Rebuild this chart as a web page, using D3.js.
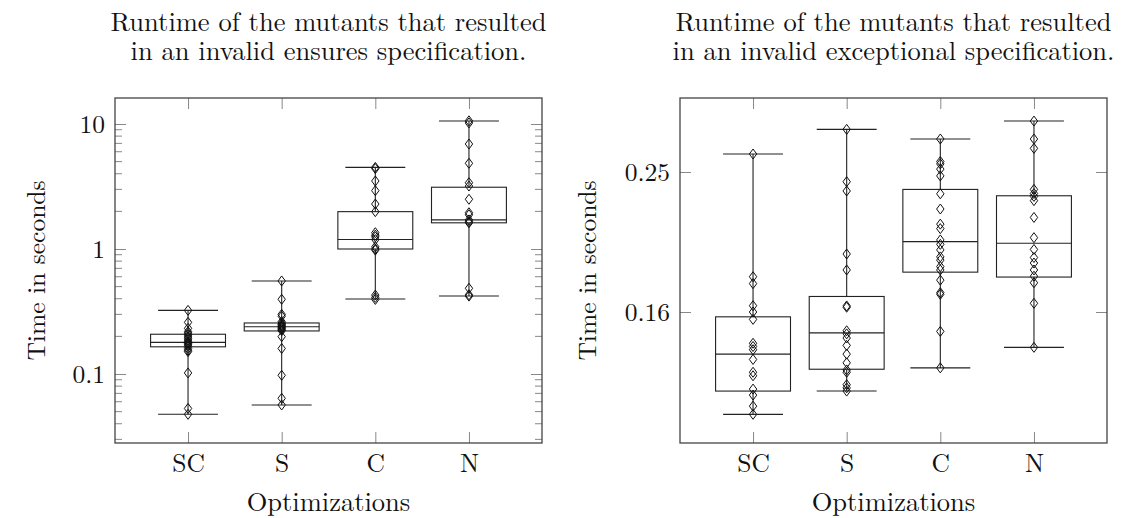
<!DOCTYPE html>
<html>
<head>
<meta charset="utf-8">
<script src="https://cdn.jsdelivr.net/npm/d3@7"></script>
<style>
  body { margin: 0; background: #fff; }
  text { font-family: "Latin Modern Roman", "CMU Serif", "Liberation Serif", serif; fill: #111; }
</style>
</head>
<body>
<svg id="chart" width="1121" height="518"></svg>
<script>
const categories = ["SC", "S", "C", "N"];

// left: invalid ensures specification (seconds, log axis)
const ensuresLower  = [0.0476, 0.0565, 0.398, 0.421];
const ensuresQ1     = [0.165, 0.221, 1.0, 1.62];
const ensuresMedian = [0.179, 0.239, 1.19, 1.71];
const ensuresQ3     = [0.208, 0.256, 1.99, 3.12];
const ensuresUpper  = [0.323, 0.555, 4.5, 10.57];
const ensuresPoints = [
  [0.323, 0.259, 0.232, 0.218, 0.212, 0.205, 0.198, 0.193, 0.187, 0.181, 0.178, 0.175, 0.171, 0.166, 0.160, 0.155, 0.151, 0.102, 0.053, 0.0476],
  [0.555, 0.396, 0.300, 0.290, 0.262, 0.255, 0.250, 0.246, 0.242, 0.238, 0.234, 0.230, 0.226, 0.222, 0.199, 0.160, 0.0976, 0.0639, 0.0565],
  [4.50, 4.40, 3.50, 2.93, 2.29, 1.99, 1.35, 1.29, 1.25, 1.19, 1.04, 1.0, 0.98, 0.428, 0.41, 0.395],
  [10.6, 10.2, 6.92, 4.85, 3.39, 3.19, 2.50, 1.95, 1.88, 1.71, 1.65, 1.62, 0.485, 0.43, 0.42]
];
const ensuresTicks = [0.1, 1, 10];
const ensuresMinorTicks = [0.03, 0.04, 0.05, 0.06, 0.07, 0.08, 0.09, 0.2, 0.3, 0.4, 0.5, 0.6, 0.7, 0.8, 0.9, 2, 3, 4, 5, 6, 7, 8, 9];

// right: invalid exceptional specification
const exceptionalLower  = [0.1132, 0.1222, 0.1319, 0.1411];
const exceptionalQ1     = [0.1222, 0.1313, 0.1807, 0.1778];
const exceptionalMedian = [0.138, 0.148, 0.1998, 0.1987];
const exceptionalQ3     = [0.156, 0.1668, 0.2372, 0.2323];
const exceptionalUpper  = [0.2665, 0.289, 0.280, 0.297];
const exceptionalPoints = [
  [0.2665, 0.178, 0.174, 0.1618, 0.1585, 0.1547, 0.143, 0.1415, 0.140, 0.1356, 0.1300, 0.1285, 0.123, 0.1206, 0.1163, 0.1132],
  [0.289, 0.2433, 0.236, 0.1918, 0.182, 0.1617, 0.161, 0.149, 0.1475, 0.1455, 0.142, 0.138, 0.1341, 0.131, 0.130, 0.1248, 0.1235, 0.1222],
  [0.280, 0.260, 0.258, 0.2536, 0.248, 0.2338, 0.2224, 0.2116, 0.2085, 0.2009, 0.198, 0.1944, 0.190, 0.188, 0.184, 0.182, 0.176, 0.1689, 0.168, 0.1487, 0.1319],
  [0.297, 0.280, 0.2715, 0.2372, 0.234, 0.2318, 0.2286, 0.2163, 0.2024, 0.1947, 0.1896, 0.1862, 0.182, 0.1783, 0.1745, 0.1631, 0.1411]
];
const exceptionalTicks = [Math.pow(10, -0.8), Math.pow(10, -0.6)];

const svg = d3.select("#chart");
const tickSize = 25.5, labelSize = 26.5;

function boxPanel(p) {
  let g = svg.append("g");
  let x = d3.scaleLinear().domain([0.22, 4.78]).range([p.left, p.right]);
  let y = d3.scaleLog().domain(p.domain).range([p.bottom, p.top]);
  let step = x(2) - x(1);
  let cx = (p.left + p.right) / 2;

  // two-line title in one text element
  let title = g.append("text")
    .attr("text-anchor", "middle").style("font-size", labelSize + "px");
  p.title.forEach(function(line, i) {
    title.append("tspan").attr("x", cx).attr("y", 31 + i * 29).text(line);
  });

  // minor ticks (both sides)
  if (p.minor) {
    g.selectAll(".minor").data(p.minor).join("path")
      .attr("d", d => `M${p.left},${y(d)}h7M${p.right},${y(d)}h-7`)
      .attr("stroke", "#888").attr("stroke-width", 1);
  }

  let yAxis = g.append("g").attr("transform", `translate(${p.left},0)`)
    .call(d3.axisLeft(y).tickValues(p.ticks).tickFormat(p.format).tickSize(-11).tickPadding(10));
  let yAxis2 = g.append("g").attr("transform", `translate(${p.right},0)`)
    .call(d3.axisRight(y).tickValues(p.ticks).tickFormat("").tickSize(-11));
  let xAxis = g.append("g").attr("transform", `translate(0,${p.bottom})`)
    .call(d3.axisBottom(x).tickValues([1, 2, 3, 4]).tickFormat(d => categories[d - 1]).tickSize(-11).tickPadding(11));
  let xAxis2 = g.append("g").attr("transform", `translate(0,${p.top})`)
    .call(d3.axisTop(x).tickValues([1, 2, 3, 4]).tickFormat("").tickSize(-11));
  [yAxis, yAxis2, xAxis, xAxis2].forEach(function(a) {
    a.select(".domain").remove();
    a.selectAll(".tick line").attr("stroke", "#888").attr("stroke-width", 1);
    a.selectAll(".tick text").style("font-size", tickSize + "px")
      .style("font-family", null).attr("fill", "#111");
  });

  g.append("rect")
    .attr("x", p.left).attr("y", p.top)
    .attr("width", p.right - p.left).attr("height", p.bottom - p.top)
    .attr("fill", "none").attr("stroke", "#444").attr("stroke-width", 1.3);

  // boxes
  let boxes = categories.map((c, i) => ({
    i: i + 1, lo: p.lower[i], q1: p.q1[i], med: p.median[i], q3: p.q3[i], hi: p.upper[i], pts: p.points[i]
  }));
  let bw = step * 0.8, ww = step * 0.64;
  let bg = g.selectAll(".box").data(boxes).join("g").attr("class", "box")
    .attr("fill", "none").attr("stroke", "#222").attr("stroke-width", 1.1);
  bg.append("path")
    .attr("d", d => `M${x(d.i)},${y(d.q3)}V${y(d.hi)}M${x(d.i) - ww / 2},${y(d.hi)}h${ww}` +
      `M${x(d.i)},${y(d.q1)}V${y(d.lo)}M${x(d.i) - ww / 2},${y(d.lo)}h${ww}`);
  bg.append("rect")
    .attr("x", d => x(d.i) - bw / 2).attr("width", bw)
    .attr("y", d => y(d.q3)).attr("height", d => y(d.q1) - y(d.q3));
  bg.append("path")
    .attr("d", d => `M${x(d.i) - bw / 2},${y(d.med)}h${bw}`);

  // data points as diamonds
  bg.selectAll(".pt").data(d => d.pts.map(v => ({i: d.i, v: v}))).join("path")
    .attr("class", "pt")
    .attr("d", d => `M${x(d.i)},${y(d.v) - 5}l3.7,5l-3.7,5l-3.7,-5z`)
    .attr("stroke", "#111").attr("stroke-width", 1);

  g.append("text")
    .attr("x", cx).attr("y", 511)
    .attr("text-anchor", "middle").style("font-size", labelSize + "px")
    .text("Optimizations");
  g.append("text")
    .attr("transform", `translate(${p.ylabelX},${(p.top + p.bottom) / 2}) rotate(-90)`)
    .attr("text-anchor", "middle").style("font-size", tickSize + "px")
    .text("Time in seconds");
}

boxPanel({
  left: 115, right: 542, top: 98, bottom: 443,
  domain: [Math.pow(10, -1.552), Math.pow(10, 1.208)],
  ticks: ensuresTicks, minor: ensuresMinorTicks, format: d3.format("~g"),
  lower: ensuresLower, q1: ensuresQ1, median: ensuresMedian, q3: ensuresQ3, upper: ensuresUpper,
  points: ensuresPoints,
  title: ["Runtime of the mutants that resulted", "in an invalid ensures specification."],
  ylabelX: 45
});

boxPanel({
  left: 680, right: 1107, top: 98, bottom: 443,
  domain: [Math.pow(10, -0.9871), Math.pow(10, -0.4943)],
  ticks: exceptionalTicks, minor: null, format: d3.format(".2f"),
  lower: exceptionalLower, q1: exceptionalQ1, median: exceptionalMedian, q3: exceptionalQ3, upper: exceptionalUpper,
  points: exceptionalPoints,
  title: ["Runtime of the mutants that resulted", "in an invalid exceptional specification."],
  ylabelX: 596
});
</script>
</body>
</html>
